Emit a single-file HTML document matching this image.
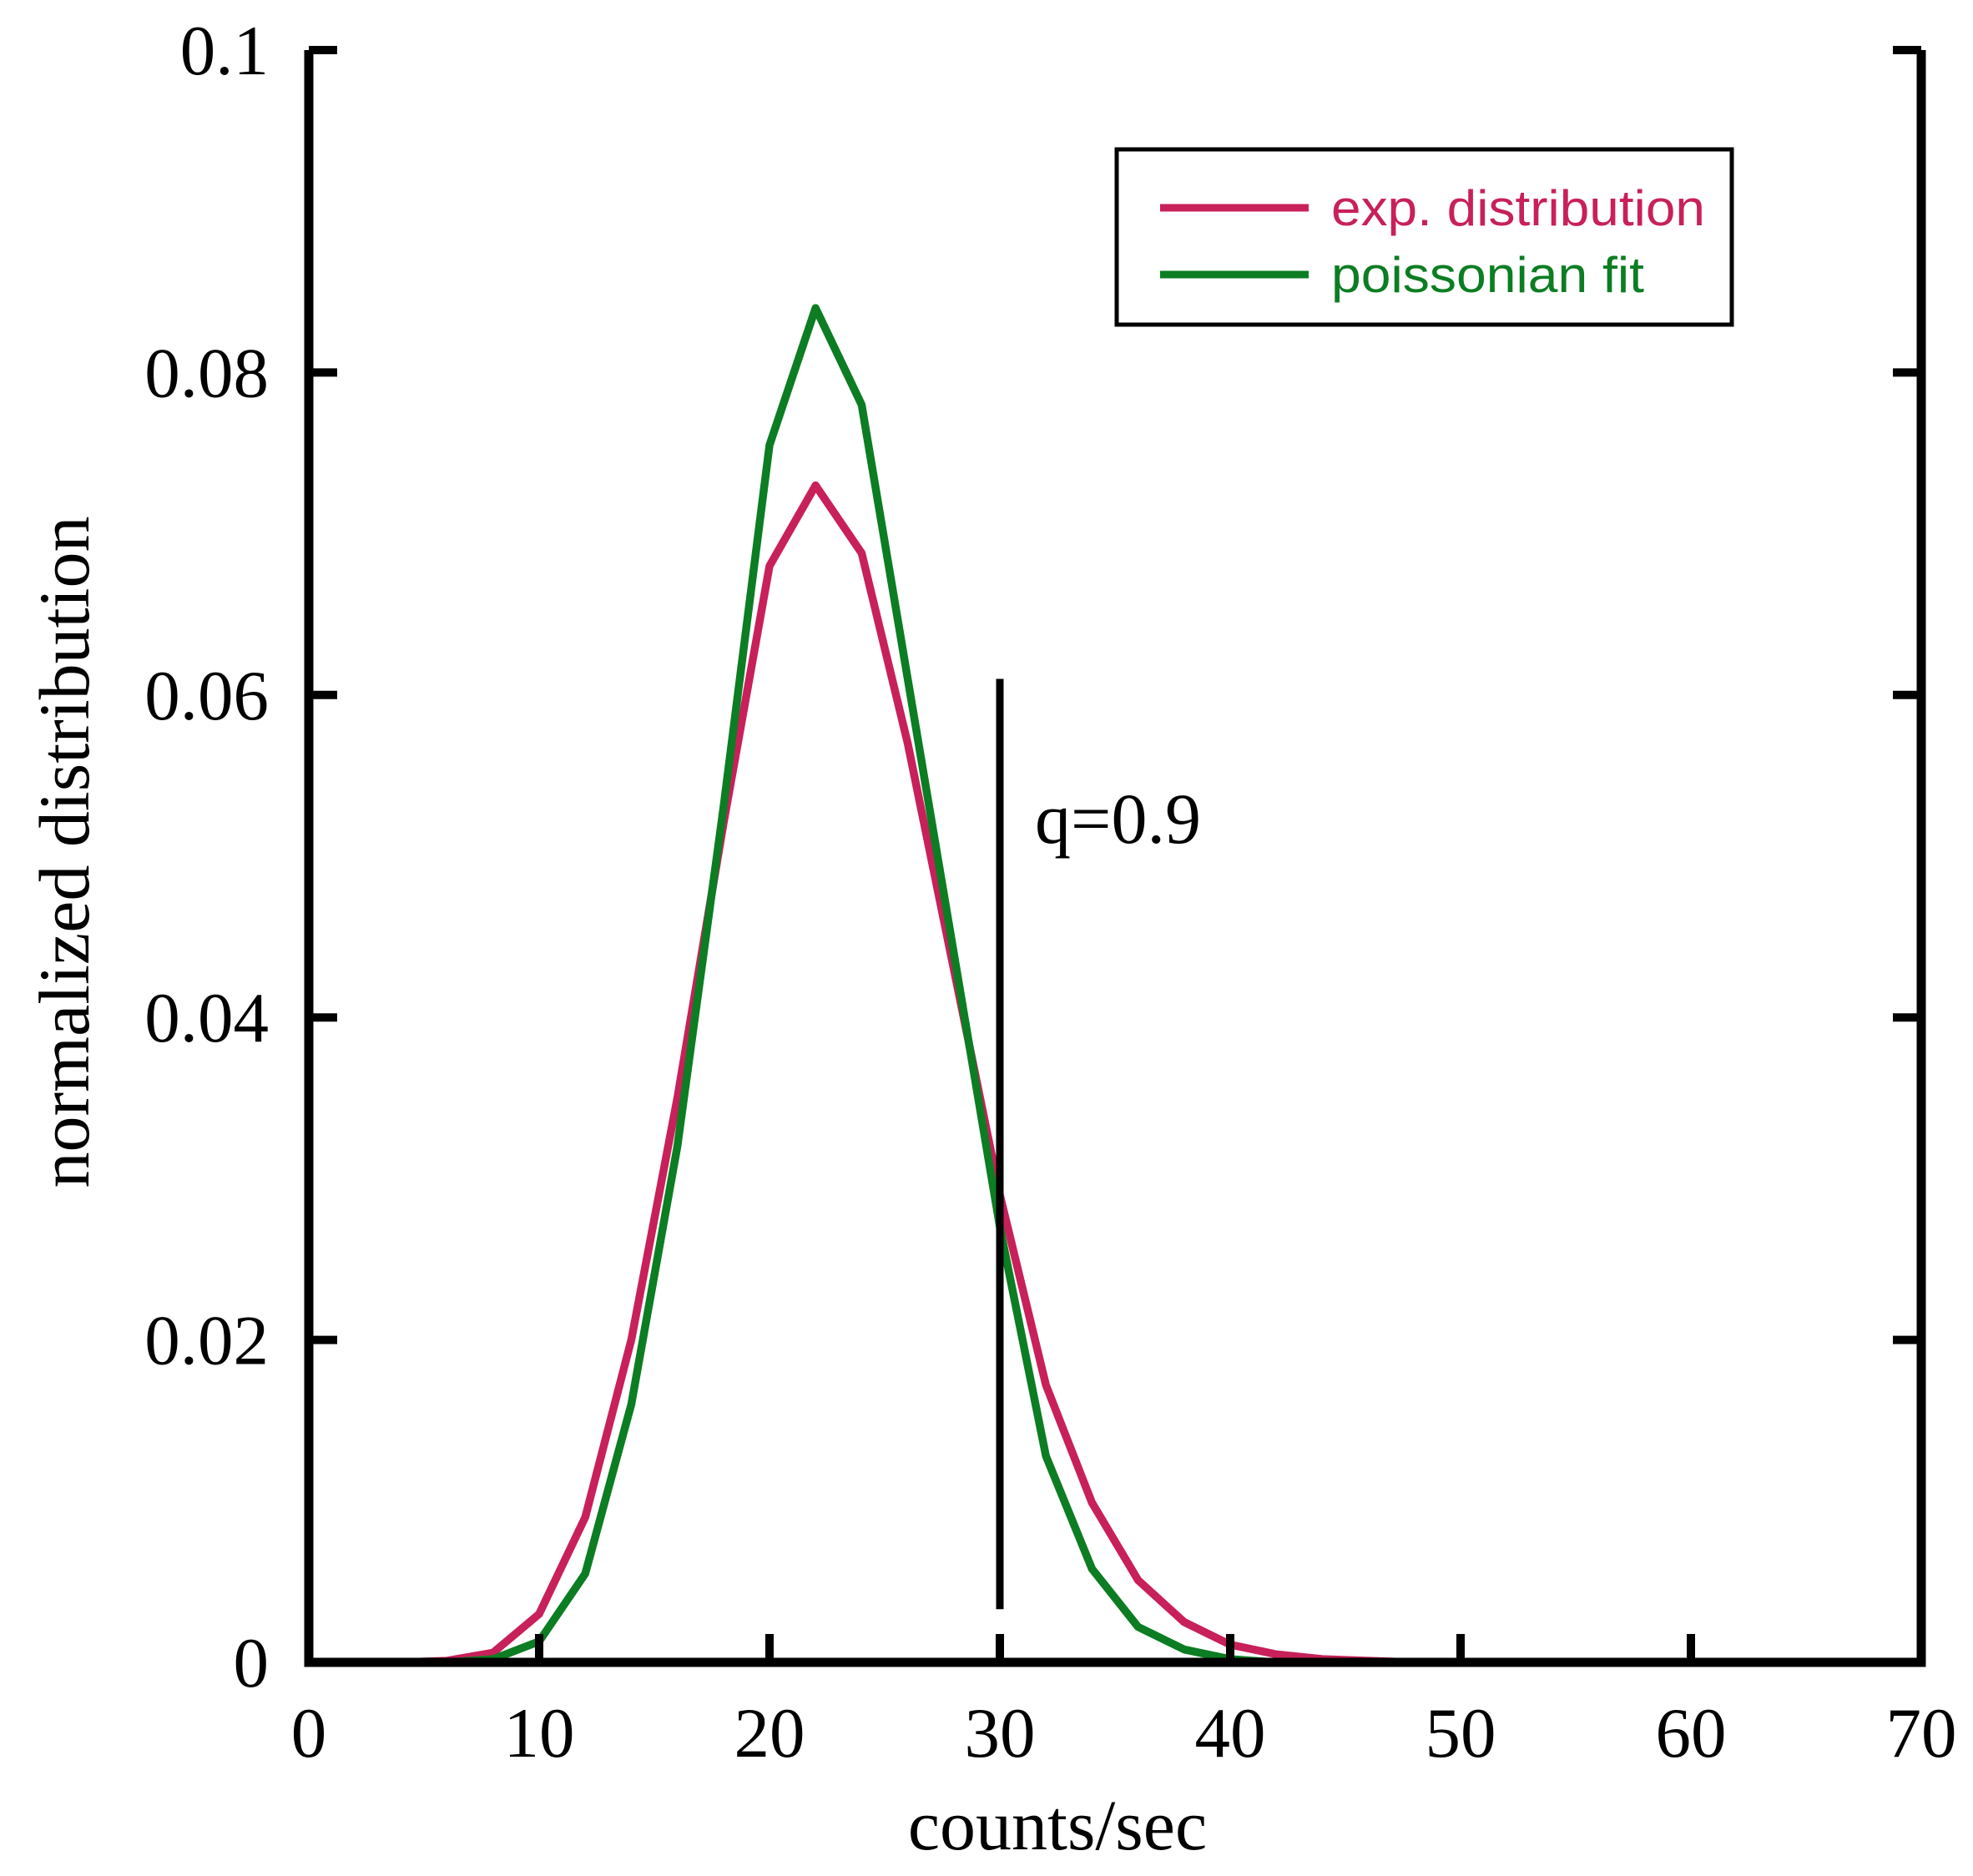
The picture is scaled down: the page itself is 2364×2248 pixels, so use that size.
<!DOCTYPE html>
<html><head><meta charset="utf-8"><style>
html,body{margin:0;padding:0;background:#fff;}
svg{display:block;}
</style></head><body>
<svg id="chart" width="2364" height="2248" viewBox="0 0 2364 2248" xmlns="http://www.w3.org/2000/svg">
<g id="plot"></g>
</svg>
<script>
const xTicks = [0,10,20,30,40,50,60,70];
const yTicks = [0,0.02,0.04,0.06,0.08,0.1];
const yTickLabels = ["0","0.02","0.04","0.06","0.08","0.1"];
const xs = [4,6,8,10,12,14,16,18,20,22,24,26,28,30,32,34,36,38,40,42,44,46,48,50];
const expValues = [0,0.0001,0.0006,0.003,0.009,0.02,0.035,0.052,0.068,0.073,0.0688,0.057,0.043,0.029,0.0172,0.0099,0.0051,0.0025,0.0011,0.0005,0.0002,0.0001,0,0];
const fitValues = [0,0,0.0002,0.0013,0.0055,0.016,0.032,0.053,0.0755,0.084,0.078,0.061,0.044,0.027,0.0128,0.0058,0.0022,0.0008,0.0002,0,0,0,0,0];
const qLineX = 30;
const qLineRange = [0.0033,0.061];

const X0=370, X1=2302, Y0=1992, Y1=60;
const sx = v => X0 + (v-0)/(70-0)*(X1-X0);
const sy = v => Y0 - (v-0)/(0.1-0)*(Y0-Y1);
const NS="http://www.w3.org/2000/svg";
const g=document.getElementById('plot');
function mk(tag, attrs){const e=document.createElementNS(NS,tag);for(const k in attrs)e.setAttribute(k,attrs[k]);g.appendChild(e);return e;}
const serif='"Liberation Serif", serif', sans='"Liberation Sans", sans-serif';

function poly(vals, color, name){
  const p=mk('polyline',{points:xs.map((x,i)=>sx(x)+','+sy(vals[i])).join(' '),fill:'none',stroke:color,'stroke-width':9.5,'stroke-linejoin':'round'});
  
  
}
poly(expValues,'#c8205a','exp-distribution-line');
poly(fitValues,'#0c7d22','poissonian-fit-line');

const ax=mk('path',{d:`M${X0},${Y1} L${X0},${Y0} L${X1},${Y0} L${X1},${Y1}`,fill:'none',stroke:'#000','stroke-width':11,'stroke-linejoin':'miter'});



yTicks.forEach((v,i)=>{
  const y=sy(v);
  const t1=mk('line',{x1:X0,y1:y,x2:X0+34,y2:y,stroke:'#000','stroke-width':10});
  
  
  const t2=mk('line',{x1:X1-34,y1:y,x2:X1,y2:y,stroke:'#000','stroke-width':10});
  
  
  const lb=mk('text',{x:322,y:y+29,'text-anchor':'end','font-family':serif,'font-size':85,fill:'#000'});
  lb.textContent=yTickLabels[i];
  
  
});
xTicks.forEach(v=>{
  const x=sx(v);
  const t=mk('line',{x1:x,y1:Y0,x2:x,y2:Y0-34,stroke:'#000','stroke-width':10});
  
  
  const lb=mk('text',{x:x,y:2105,'text-anchor':'middle','font-family':serif,'font-size':85,fill:'#000'});
  lb.textContent=String(v);
  
  
});

const xt=mk('text',{x:1267,y:2216,'text-anchor':'middle','font-family':serif,'font-size':86,fill:'#000'});
xt.textContent='counts/sec';


const yt=mk('text',{x:0,y:0,'text-anchor':'middle','font-family':serif,'font-size':86,fill:'#000',transform:'translate(106,1021) rotate(-90)'});
yt.textContent='normalized distribution';



const ql=mk('line',{x1:sx(qLineX),y1:sy(qLineRange[1]),x2:sx(qLineX),y2:sy(qLineRange[0]),stroke:'#000','stroke-width':9});


const qt=mk('text',{x:1240,y:1010,'font-family':serif,'font-size':86,fill:'#000'});
qt.textContent='q=0.9';



const lbox=mk('rect',{x:1338,y:179,width:737,height:210,fill:'#fff',stroke:'#000','stroke-width':5});


const l1=mk('line',{x1:1390,y1:249,x2:1568,y2:249,stroke:'#c8205a','stroke-width':9});


const l2=mk('line',{x1:1390,y1:329,x2:1568,y2:329,stroke:'#0c7d22','stroke-width':9});


const lt1=mk('text',{x:1595,y:270,'font-family':sans,'font-size':60,fill:'#c8205a',textLength:448,lengthAdjust:'spacingAndGlyphs'});
lt1.textContent='exp. distribution';


const lt2=mk('text',{x:1595,y:350,'font-family':sans,'font-size':60,fill:'#0c7d22',textLength:375,lengthAdjust:'spacingAndGlyphs'});
lt2.textContent='poissonian fit';


</script>
</body></html>
